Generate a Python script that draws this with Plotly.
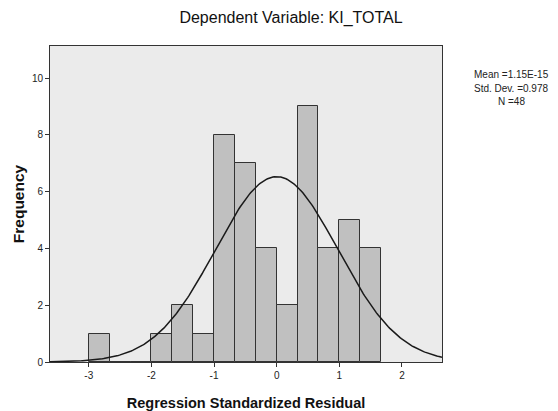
import plotly.graph_objects as go
import numpy as np

# Histogram bins (left edges, width 1/3) and counts
bin_left_edges = [-3.0, -2.6667, -2.3333, -2.0, -1.6667, -1.3333, -1.0, -0.6667,
                  -0.3333, 0.0, 0.3333, 0.6667, 1.0, 1.3333]
counts = [1, 0, 0, 1, 2, 1, 8, 7, 4, 2, 9, 4, 5, 4]
bin_width = 1 / 3

# Summary statistics
mean_val = 1.15e-15
std_val = 0.978
n_val = 48
stats_lines = ["Mean =1.15E-15", "Std. Dev. =0.978", "N =48"]

x_ticks = [-3, -2, -1, 0, 1, 2]
y_ticks = [0, 2, 4, 6, 8, 10]

centers = [e + bin_width / 2 for e in bin_left_edges]

FONT = "Liberation Sans, Arial, sans-serif"

W, H = 558, 411
L, R, T, B = 50, 116, 46, 49

fig = go.Figure()
fig.add_trace(go.Bar(
    x=centers, y=counts, width=bin_width,
    marker=dict(color="#C0C0C0", line=dict(color="#333333", width=1)),
    showlegend=False, hoverinfo="skip"))

xs = np.linspace(-3.62, 2.64, 300)
ys = n_val * bin_width / (std_val * np.sqrt(2 * np.pi)) * np.exp(-0.5 * ((xs - mean_val) / std_val) ** 2)
fig.add_trace(go.Scatter(x=xs, y=ys, mode="lines",
                         line=dict(color="#1a1a1a", width=1.5),
                         showlegend=False, hoverinfo="skip"))

fig.update_layout(
    width=W, height=H,
    margin=dict(l=L, r=R, t=T, b=B, autoexpand=False),
    paper_bgcolor="white", plot_bgcolor="#EBEBEB",
    font=dict(family=FONT, color="#222222"),
    bargap=0,
    title=dict(text="Dependent Variable: KI_TOTAL", x=291 / W, xanchor="center",
               y=1 - 17 / H, yanchor="middle", font=dict(size=16, color="#111111")),
    xaxis=dict(range=[-3.62, 2.64], tickvals=x_ticks, ticktext=[str(v) for v in x_ticks],
               automargin=False,
               ticks="outside", ticklen=4, tickcolor="#333333", showgrid=False,
               zeroline=False, showline=True, linecolor="#333333", linewidth=1, mirror=True,
               tickfont=dict(size=10, color="#222222"),
               title=dict(text="<b>Regression Standardized Residual</b>", standoff=17,
                          font=dict(size=14.5, color="#111111"))),
    yaxis=dict(range=[0, 11.13], tickvals=y_ticks, ticks="outside", ticklen=4,
               automargin=False,
               tickcolor="#333333", showgrid=False, zeroline=False, showline=True,
               linecolor="#333333", linewidth=1, mirror=True,
               tickfont=dict(size=10, color="#222222"),
               title=dict(text="<b>Frequency</b>", standoff=3,
                          font=dict(size=15.5, color="#111111"))),
)

pw, ph = W - L - R, H - T - B
for txt, yp in zip(stats_lines, [74, 88, 101]):
    fig.add_annotation(text=txt, xref="paper", yref="paper",
                       x=(511 - L) / pw, y=(H - B - yp) / ph,
                       xanchor="center", yanchor="middle", showarrow=False,
                       font=dict(size=10, color="#222222"))

fig.write_html("out.html", config={"displayModeBar": False},
               post_script="document.body.style.margin='0';")
